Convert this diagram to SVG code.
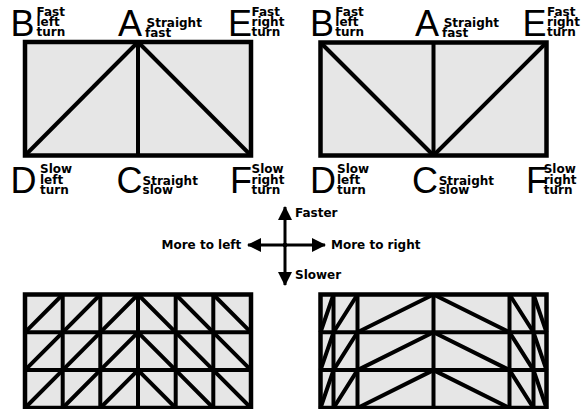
<svg xmlns="http://www.w3.org/2000/svg" width="584" height="409" viewBox="0 0 584 409">
<defs>
<style>
.bg{fill:#ffffff}
.panel{fill:#e6e6e6;stroke:#000;stroke-width:4.5}
.ln{stroke:#000;stroke-width:4;fill:none;stroke-linecap:butt}
.big{font-family:"Liberation Sans",Arial,sans-serif;font-size:36px;fill:#000}
.sm{font-family:"DejaVu Sans",Verdana,sans-serif;font-weight:bold;font-size:12px;fill:#000}
.arr{stroke:#000;stroke-width:3;fill:none}
.lbl{font-family:"DejaVu Sans",Verdana,sans-serif;font-weight:bold;font-size:12px;fill:#000}
</style>
<marker id="ah" markerUnits="userSpaceOnUse" markerWidth="14" markerHeight="14" viewBox="0 0 14 14" refX="13" refY="7" orient="auto">
<path d="M0,0 L14,7 L0,14 Z" fill="#000"/>
</marker>
</defs>
<rect class="bg" x="0" y="0" width="584" height="409"/>

<g id="panel-top-left">
<rect class="panel" x="25" y="42" width="226" height="113.5"/>
<line class="ln" x1="138" y1="42" x2="138" y2="155.5"/>
<line class="ln" x1="138" y1="42" x2="25" y2="155.5"/>
<line class="ln" x1="138" y1="42" x2="251" y2="155.5"/>
<text class="big" x="10.5" y="36">B</text>
<text class="sm" x="36.5" y="16">Fast</text>
<text class="sm" x="36.5" y="26">left</text>
<text class="sm" x="36.5" y="36">turn</text>
<text class="big" x="118" y="36">A</text>
<text class="sm" x="146.5" y="27">Straight</text>
<text class="sm" x="145" y="36.5">fast</text>
<text class="big" x="228" y="36">E</text>
<text class="sm" x="251.5" y="16">Fast</text>
<text class="sm" x="251.5" y="26">right</text>
<text class="sm" x="251.5" y="36">turn</text>
<text class="big" x="10.5" y="193">D</text>
<text class="sm" x="40" y="173">Slow</text>
<text class="sm" x="40" y="183.5">left</text>
<text class="sm" x="40" y="194">turn</text>
<text class="big" x="116.5" y="193">C</text>
<text class="sm" x="142.5" y="185">Straight</text>
<text class="sm" x="142.5" y="194">slow</text>
<text class="big" x="230" y="193">F</text>
<text class="sm" x="251.5" y="173">Slow</text>
<text class="sm" x="251.5" y="183.5">right</text>
<text class="sm" x="251.5" y="194">turn</text>
</g>

<g id="panel-top-right">
<rect class="panel" x="320.5" y="42.5" width="226" height="113"/>
<line class="ln" x1="433.5" y1="42.5" x2="433.5" y2="155.5"/>
<line class="ln" x1="320.5" y1="42.5" x2="433.5" y2="155.5"/>
<line class="ln" x1="546.5" y1="42.5" x2="433.5" y2="155.5"/>
<text class="big" x="310" y="36">B</text>
<text class="sm" x="335.3" y="16">Fast</text>
<text class="sm" x="335.3" y="26">left</text>
<text class="sm" x="335.3" y="36">turn</text>
<text class="big" x="415" y="36">A</text>
<text class="sm" x="443.7" y="27">Straight</text>
<text class="sm" x="442" y="36.5">fast</text>
<text class="big" x="522.5" y="36">E</text>
<text class="sm" x="547" y="16">Fast</text>
<text class="sm" x="547" y="26">right</text>
<text class="sm" x="547" y="36">turn</text>
<text class="big" x="310" y="193">D</text>
<text class="sm" x="337" y="173">Slow</text>
<text class="sm" x="337" y="183.5">left</text>
<text class="sm" x="337" y="194">turn</text>
<text class="big" x="412" y="193">C</text>
<text class="sm" x="438.7" y="185">Straight</text>
<text class="sm" x="438.7" y="194">slow</text>
<text class="big" x="526" y="193">F</text>
<text class="sm" x="543.7" y="173">Slow</text>
<text class="sm" x="543.7" y="183.5">right</text>
<text class="sm" x="543.7" y="194">turn</text>
</g>

<g id="connectors">
<line class="arr" x1="285" y1="247" x2="285" y2="207" marker-end="url(#ah)"/>
<line class="arr" x1="285" y1="243" x2="285" y2="285" marker-end="url(#ah)"/>
<line class="arr" x1="287" y1="245" x2="248" y2="245" marker-end="url(#ah)"/>
<line class="arr" x1="283" y1="245" x2="325" y2="245" marker-end="url(#ah)"/>
</g>
<g id="compass-labels">
<text class="lbl" x="295" y="217">Faster</text>
<text class="lbl" x="161.5" y="248.5">More to left</text>
<text class="lbl" x="331" y="248.5">More to right</text>
<text class="lbl" x="295" y="278.5">Slower</text>
</g>

<g id="grid-bottom-left">
<rect class="panel" x="25" y="294.5" width="226" height="113.5"/>
<path class="ln" d="M62.7,294.5V408M100.3,294.5V408M138,294.5V408M175.7,294.5V408M213.3,294.5V408M25,332.3H251M25,370.1H251"/>
<path class="ln" d="M25,332.3L62.7,294.5M62.7,332.3L100.3,294.5M100.3,332.3L138,294.5M25,370.1L62.7,332.3M62.7,370.1L100.3,332.3M100.3,370.1L138,332.3M25,408L62.7,370.1M62.7,408L100.3,370.1M100.3,408L138,370.1"/>
<path class="ln" d="M138,294.5L175.7,332.3M175.7,294.5L213.3,332.3M213.3,294.5L251,332.3M138,332.3L175.7,370.1M175.7,332.3L213.3,370.1M213.3,332.3L251,370.1M138,370.1L175.7,408M175.7,370.1L213.3,408M213.3,370.1L251,408"/>
</g>

<g id="grid-bottom-right">
<rect class="panel" x="320.5" y="294.5" width="226" height="113.5"/>
<path class="ln" d="M333.5,294.5V408M357.5,294.5V408M433.5,294.5V408M509.5,294.5V408M533.5,294.5V408M320.5,332.3H546.5M320.5,370.1H546.5"/>
<path class="ln" d="M320.5,332.3L333.5,294.5M333.5,332.3L357.5,294.5M357.5,332.3L433.5,294.5M320.5,370.1L333.5,332.3M333.5,370.1L357.5,332.3M357.5,370.1L433.5,332.3M320.5,408L333.5,370.1M333.5,408L357.5,370.1M357.5,408L433.5,370.1"/>
<path class="ln" d="M433.5,294.5L509.5,332.3M509.5,294.5L533.5,332.3M533.5,294.5L546.5,332.3M433.5,332.3L509.5,370.1M509.5,332.3L533.5,370.1M533.5,332.3L546.5,370.1M433.5,370.1L509.5,408M509.5,370.1L533.5,408M533.5,370.1L546.5,408"/>
</g>
</svg>
